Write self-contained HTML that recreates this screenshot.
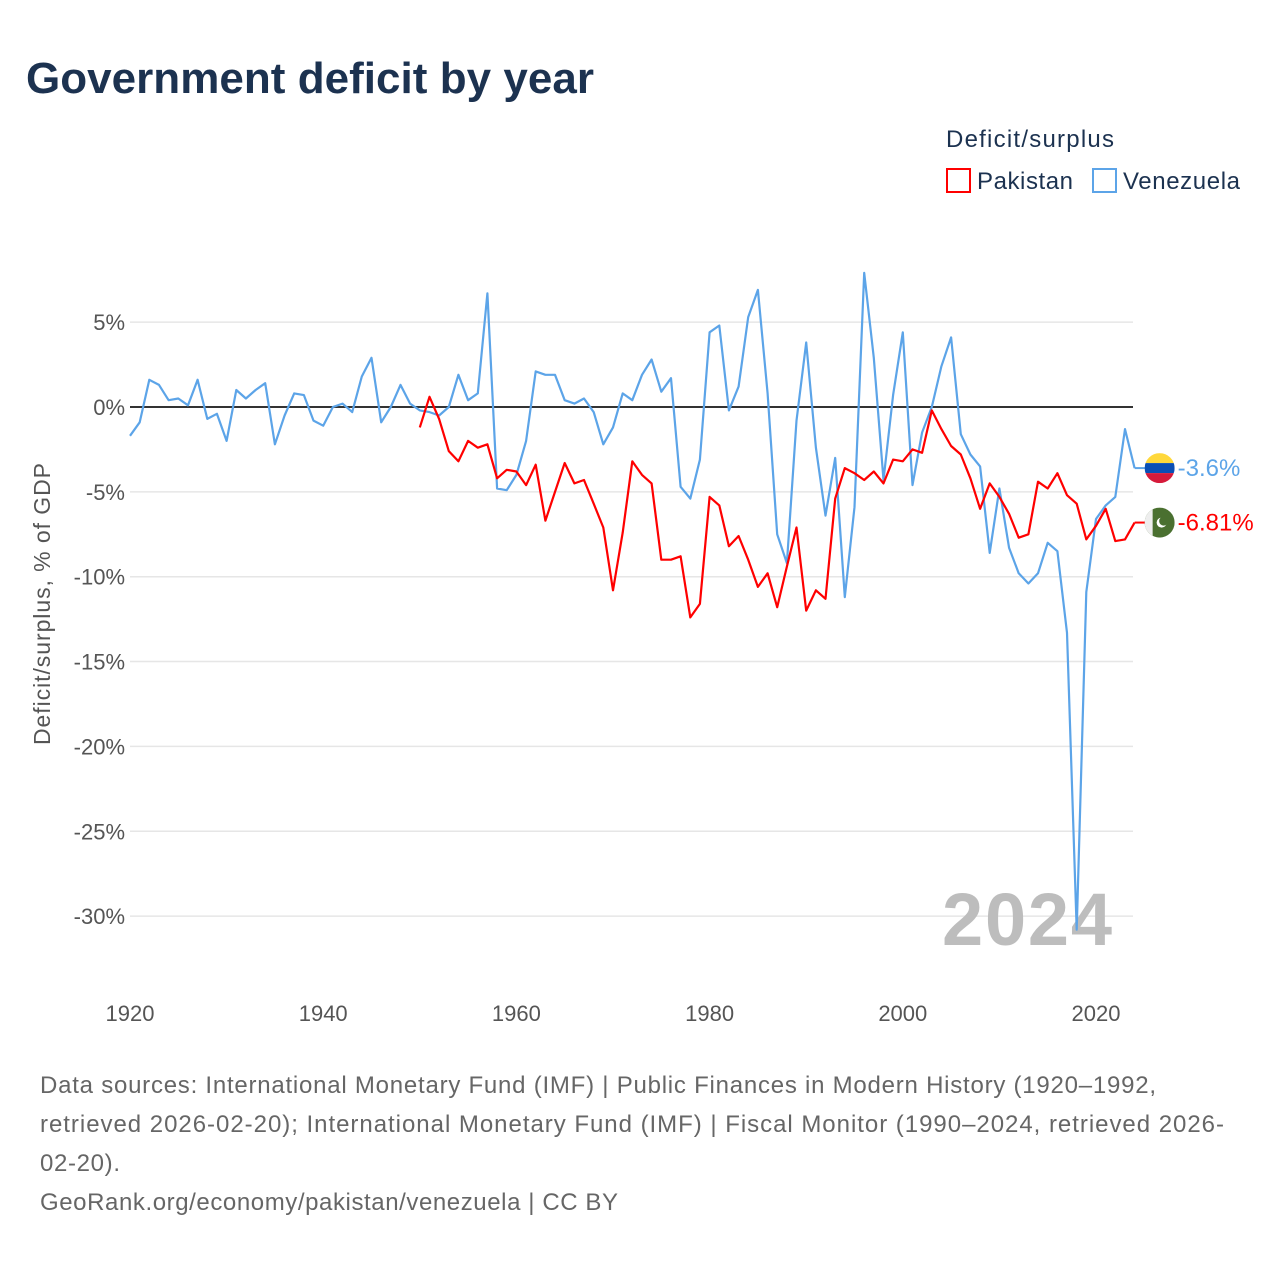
<!DOCTYPE html>
<html><head><meta charset="utf-8"><style>
html,body{margin:0;padding:0;background:#fff;}
body{width:1280px;height:1280px;position:relative;overflow:hidden;font-family:"Liberation Sans",sans-serif;}
</style></head><body>
<svg id="chart" width="1280" height="1280" viewBox="0 0 1280 1280" xmlns="http://www.w3.org/2000/svg" style="position:absolute;left:0;top:0">
<text x="26" y="93" font-size="44" font-weight="bold" fill="#1c3250" font-family="Liberation Sans, sans-serif" textLength="568">Government deficit by year</text>
<text x="946" y="147" font-size="24" fill="#1c3250" textLength="168">Deficit/surplus</text>
<g>
<rect x="947" y="169" width="23" height="23" fill="#fff" stroke="#ff0000" stroke-width="2"/>
<text x="977" y="189" font-size="24" fill="#1c3250" textLength="96">Pakistan</text>
</g>
<g>
<rect x="1093" y="169" width="23" height="23" fill="#fff" stroke="#5ca4e8" stroke-width="2"/>
<text x="1123" y="189" font-size="24" fill="#1c3250" textLength="117">Venezuela</text>
</g>
<g id="grid"></g>
<g id="yticks"></g>
<g id="xticks"></g>
<text transform="translate(50,604) rotate(-90)" text-anchor="middle" font-size="23" fill="#555" textLength="282">Deficit/surplus, % of GDP</text>
<text x="1112" y="945" text-anchor="end" font-size="74" font-weight="bold" fill="#bdbdbd" textLength="170">2024</text>
<g id="series"></g>
<g id="endlabels"></g>
<g font-size="24" fill="#666">
<text x="40" y="1093" textLength="1116">Data sources: International Monetary Fund (IMF) | Public Finances in Modern History (1920–1992,</text>
<text x="40" y="1132" textLength="1184">retrieved 2026-02-20); International Monetary Fund (IMF) | Fiscal Monitor (1990–2024, retrieved 2026-</text>
<text x="40" y="1171" textLength="80">02-20).</text>
<text x="40" y="1210" textLength="578">GeoRank.org/economy/pakistan/venezuela | CC BY</text>
</g>
</svg>
<script>
const yTicks = [5, 0, -5, -10, -15, -20, -25, -30];
const xTicks = [1920, 1940, 1960, 1980, 2000, 2020];
const venStart = 1920;
const venezuela = [-1.7,-0.9,1.6,1.3,0.4,0.5,0.1,1.6,-0.7,-0.4,
-2.0,1.0,0.5,1.0,1.4,-2.2,-0.5,0.8,0.7,-0.8,
-1.1,0.0,0.2,-0.3,1.8,2.9,-0.9,0.0,1.3,0.2,
-0.2,-0.3,-0.5,0.0,1.9,0.4,0.8,6.7,-4.8,-4.9,
-4.0,-2.0,2.1,1.9,1.9,0.4,0.2,0.5,-0.3,-2.2,
-1.2,0.8,0.4,1.9,2.8,0.9,1.7,-4.7,-5.4,-3.1,
4.4,4.8,-0.2,1.2,5.3,6.9,0.8,-7.5,-9.2,-0.8,
3.8,-2.4,-6.4,-3.0,-11.2,-5.9,7.9,2.9,-4.3,0.7,
4.4,-4.6,-1.5,0.0,2.4,4.1,-1.6,-2.8,-3.5,-8.6,
-4.8,-8.3,-9.8,-10.4,-9.8,-8.0,-8.5,-13.3,-30.8,-10.9,
-6.6,-5.8,-5.3,-1.3,-3.6];
const pakStart = 1950;
const pakistan = [-1.2,0.6,-0.7,-2.6,-3.2,-2.0,-2.4,-2.2,-4.2,-3.7,
-3.8,-4.6,-3.4,-6.7,-5.0,-3.3,-4.5,-4.3,-5.7,-7.1,
-10.8,-7.4,-3.2,-4.0,-4.5,-9.0,-9.0,-8.8,-12.4,-11.6,
-5.3,-5.8,-8.2,-7.6,-9.0,-10.6,-9.8,-11.8,-9.4,-7.1,
-12.0,-10.8,-11.3,-5.4,-3.6,-3.9,-4.3,-3.8,-4.5,-3.1,
-3.2,-2.5,-2.7,-0.2,-1.3,-2.3,-2.8,-4.2,-6.0,-4.5,
-5.3,-6.3,-7.7,-7.5,-4.4,-4.8,-3.9,-5.2,-5.7,-7.8,
-7.0,-6.0,-7.9,-7.8,-6.81];
const endLabels = ["-3.6%", "-6.81%"];

const NS = "http://www.w3.org/2000/svg";
const X0 = 130, X1 = 1133;
function xs(yr){ return 130 + (yr - 1920) * 9.66; }
function ys(v){ return 407 - v * 16.97; }
function mk(tag, attrs, parent){ const e=document.createElementNS(NS,tag); for(const k in attrs) e.setAttribute(k,attrs[k]); parent.appendChild(e); return e; }

const grid = document.getElementById('grid');
const yt = document.getElementById('yticks');
yTicks.forEach(v=>{
  const l = mk('line',{x1:X0,x2:X1,y1:ys(v),y2:ys(v),stroke: v===0?'#333':'#e6e6e6','stroke-width': v===0?2:1.5},grid);
  
  
  const t = mk('text',{x:125,y:ys(v)+8,'text-anchor':'end','font-size':22,fill:'#555'},yt);
  t.textContent = v + '%';
  
  
});
const xt = document.getElementById('xticks');
xTicks.forEach(y=>{
  const t = mk('text',{x:xs(y),y:1021,'text-anchor':'middle','font-size':22,fill:'#555'},xt);
  t.textContent = y;
  
  
});
const sg = document.getElementById('series');
function line(arr,start,color,name){
  const pts = arr.map((v,i)=>xs(start+i).toFixed(1)+','+ys(v).toFixed(1)).join(' ');
  const p = mk('polyline',{points:pts,fill:'none',stroke:color,'stroke-width':2.2,'stroke-linejoin':'round'},sg);
  
  
}
line(venezuela, venStart, '#5ca4e8', 'venezuela-line');
line(pakistan, pakStart, '#ff0000', 'pakistan-line');

const eg = document.getElementById('endlabels');
const vLast = venezuela[venezuela.length-1], vx = xs(venStart+venezuela.length-1), vy = ys(vLast);
mk('line',{x1:vx,x2:vx+12,y1:vy,y2:vy,stroke:'#5ca4e8','stroke-width':2},eg);
const vf = mk('g',{},eg);


const cx = vx+25;
mk('clipPath',{id:'cv'},vf); mk('circle',{cx:cx,cy:vy,r:15},vf.lastChild);
mk('rect',{x:cx-15,y:vy-15,width:30,height:10,fill:'#ffd83b','clip-path':'url(#cv)'},vf);
mk('rect',{x:cx-15,y:vy-5,width:30,height:10,fill:'#0a4fb5','clip-path':'url(#cv)'},vf);
mk('rect',{x:cx-15,y:vy+5,width:30,height:10,fill:'#d61a3a','clip-path':'url(#cv)'},vf);
const vt = mk('text',{x:cx+18,y:vy+8,'font-size':24,fill:'#5ca4e8'},eg);
vt.textContent = endLabels[0];


const pLast = pakistan[pakistan.length-1], px = xs(pakStart+pakistan.length-1), py = ys(pLast);
mk('line',{x1:px,x2:px+12,y1:py,y2:py,stroke:'#ff0000','stroke-width':2},eg);
const pf = mk('g',{},eg);


mk('clipPath',{id:'cp'},pf); mk('circle',{cx:cx,cy:py,r:15},pf.lastChild);
mk('rect',{x:cx-15,y:py-15,width:30,height:30,fill:'#4a7030','clip-path':'url(#cp)'},pf);
mk('rect',{x:cx-15,y:py-15,width:8,height:30,fill:'#eeeeee','clip-path':'url(#cp)'},pf);
mk('circle',{cx:cx+2,cy:py,r:5,fill:'#fff'},pf);
mk('circle',{cx:cx+4,cy:py-1.5,r:4.5,fill:'#4a7030'},pf);
const pt = mk('text',{x:cx+18,y:py+8,'font-size':24,fill:'#ff0000'},eg);
pt.textContent = endLabels[1];


</script>
</body></html>
